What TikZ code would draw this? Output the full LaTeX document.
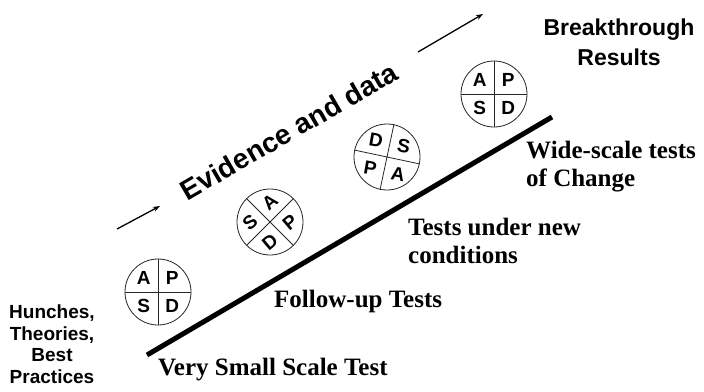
\documentclass[tikz,border=0pt]{standalone}
\usepackage{fontspec}
\setmainfont{Liberation Serif}
\setsansfont{Liberation Sans}
\usetikzlibrary{positioning, arrows.meta, calc}

\begin{document}
\begin{tikzpicture}[x=1pt, y=-1pt,
    wheel/.style={circle, draw=black!85, line width=0.8pt, minimum size=66pt, inner sep=0pt},
    spoke/.style={draw=black!85, line width=0.8pt},
    letter/.style={font=\sffamily\bfseries\fontsize{19}{19}\selectfont, inner sep=0pt},
    stage/.style={font=\rmfamily\bfseries\fontsize{25}{28}\selectfont, align=left, inner sep=0pt},
    side/.style={font=\sffamily\bfseries\fontsize{19}{21.5}\selectfont, align=center, inner sep=0pt},
    goal/.style={font=\sffamily\bfseries\fontsize{23}{30}\selectfont, align=center, inner sep=0pt},
    flow/.style={-{Stealth[length=7pt, width=5pt]}, line width=1.3pt}]

  \useasboundingbox (0,0) rectangle (704,391);

  % Ramp
  \coordinate (ramp start) at (147,355);
  \coordinate (ramp end) at (552,117);
  \draw[line width=5pt] (ramp start) -- (ramp end);

  % Evidence arrow
  \node[font=\sffamily\bfseries\fontsize{28}{28}\selectfont, rotate=30] (evidence) at (289,131) {Evidence and data};
  \coordinate (ev tail) at (117,229);
  \coordinate (ev head) at (160,206);
  \draw[flow] (ev tail) -- (ev head);
  \coordinate (ev tail2) at (418,52);
  \coordinate (ev head2) at (483,14);
  \draw[flow] (ev tail2) -- (ev head2);

  % Wheel 1
  \node[wheel] (w1) at (158,292) {};
  \draw[spoke] (w1.90) -- (w1.270) (w1.0) -- (w1.180);
  \node[letter] (w1a) at ($(w1.center)!0.6!(w1.135)$) {A};
  \node[letter] (w1p) at ($(w1.center)!0.6!(w1.45)$) {P};
  \node[letter] (w1d) at ($(w1.center)!0.6!(w1.315)$) {D};
  \node[letter] (w1s) at ($(w1.center)!0.6!(w1.225)$) {S};

  % Wheel 2
  \node[wheel] (w2) at (270,222) {};
  \draw[spoke] (w2.45) -- (w2.225) (w2.135) -- (w2.315);
  \node[letter, rotate=40] (w2a) at ($(w2.center)!0.6!(w2.90)$) {A};
  \node[letter, rotate=40] (w2p) at ($(w2.center)!0.6!(w2.0)$) {P};
  \node[letter, rotate=40] (w2d) at ($(w2.center)!0.6!(w2.270)$) {D};
  \node[letter, rotate=40] (w2s) at ($(w2.center)!0.6!(w2.180)$) {S};

  % Wheel 3
  \node[wheel] (w3) at (387,157) {};
  \draw[spoke] (w3.348) -- (w3.168) (w3.78) -- (w3.258);
  \node[letter, rotate=-10] (w3a) at ($(w3.center)!0.6!(w3.303)$) {A};
  \node[letter, rotate=-10] (w3p) at ($(w3.center)!0.6!(w3.213)$) {P};
  \node[letter, rotate=-10] (w3d) at ($(w3.center)!0.6!(w3.123)$) {D};
  \node[letter, rotate=-10] (w3s) at ($(w3.center)!0.6!(w3.33)$) {S};

  % Wheel 4
  \node[wheel] (w4) at (494,94) {};
  \draw[spoke] (w4.90) -- (w4.270) (w4.0) -- (w4.180);
  \node[letter] (w4a) at ($(w4.center)!0.6!(w4.135)$) {A};
  \node[letter] (w4p) at ($(w4.center)!0.6!(w4.45)$) {P};
  \node[letter] (w4d) at ($(w4.center)!0.6!(w4.315)$) {D};
  \node[letter] (w4s) at ($(w4.center)!0.6!(w4.225)$) {S};

  % Stages
  \node[stage, anchor=base west] (very small) at (158,375) {Very Small Scale Test};
  \node[stage, anchor=base west] (follow up) at (274,307) {Follow-up Tests};
  \node[stage, anchor=north west] (new conditions) at (408,218) {Tests under new\\conditions};
  \node[stage, anchor=north west] (wide scale) at (526,141) {Wide-scale tests\\of Change};

  % Ends
  \node[side, anchor=north] (hunches) at (52,305) {Hunches,\\Theories,\\Best\\Practices};
  \node[goal, anchor=north] (results) at (619,19) {Breakthrough\\Results};
\end{tikzpicture}
\end{document}
